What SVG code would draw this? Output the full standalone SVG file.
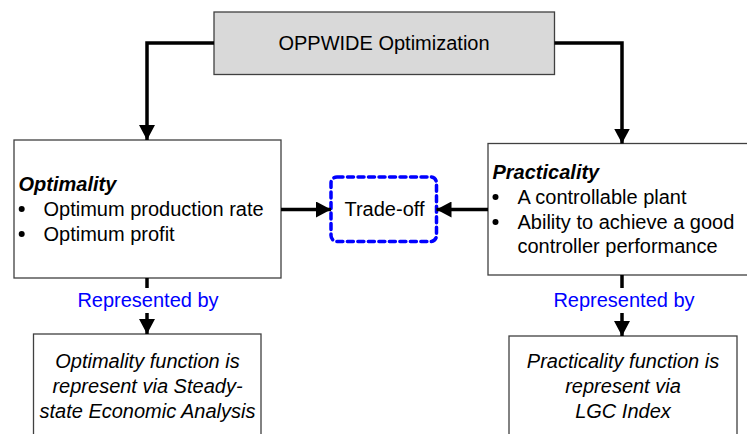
<svg xmlns="http://www.w3.org/2000/svg" width="747" height="434" viewBox="0 0 747 434">
  <style>
    .box { fill: #ffffff; stroke: #404040; stroke-width: 1.3; }
    .head { fill: #d9d9d9; stroke: #404040; stroke-width: 1.3; }
    .link { fill: none; stroke: #000000; stroke-width: 3.5; }
    .dots { fill: none; stroke: #0000ff; stroke-width: 3.5; stroke-dasharray: 6 4.5; stroke-linecap: round; }
    text { font-family: "Liberation Sans", Arial, sans-serif; font-size: 20px; fill: #000000; }
    .title { font-weight: bold; font-style: italic; }
    .note { font-style: italic; text-anchor: middle; }
    .via { fill: #0000ff; text-anchor: middle; }
  </style>
  <defs>
    <marker id="arrow" markerUnits="userSpaceOnUse" markerWidth="16" markerHeight="16" viewBox="0 0 16 16" refX="15" refY="8" orient="auto">
      <path d="M0,0 L15,8 L0,16 Z" fill="#000000"/>
    </marker>
  </defs>

  <g id="oppwide">
    <rect class="head" x="214" y="12" width="340.5" height="62.5"/>
    <text x="384" y="50" text-anchor="middle">OPPWIDE Optimization</text>
  </g>

  <g id="optimality">
    <rect class="box" x="14" y="140" width="267" height="138"/>
    <text class="title" x="18.5" y="191">Optimality</text>
    <circle cx="21.7" cy="209" r="3"/>
    <text x="43.5" y="216">Optimum production rate</text>
    <circle cx="21.7" cy="234" r="3"/>
    <text x="43.5" y="241">Optimum profit</text>
  </g>

  <g id="practicality">
    <rect class="box" x="488" y="143.5" width="265" height="131.5"/>
    <text class="title" x="492.5" y="179">Practicality</text>
    <circle cx="495.5" cy="197" r="3"/>
    <text x="517.5" y="204">A controllable plant</text>
    <circle cx="495.5" cy="222" r="3"/>
    <text x="517.5" y="229">Ability to achieve a good</text>
    <text x="517.5" y="253">controller performance</text>
  </g>

  <g id="tradeoff">
    <rect class="dots" x="331" y="177" width="105.5" height="64.5" rx="6"/>
    <text x="384.5" y="216" text-anchor="middle">Trade-off</text>
  </g>

  <g id="optimality-function">
    <rect class="box" x="33.5" y="334" width="227.5" height="115"/>
    <text class="note" x="147.5" y="368">Optimality function is</text>
    <text class="note" x="147.5" y="393">represent via Steady-</text>
    <text class="note" x="147.5" y="418">state Economic Analysis</text>
  </g>

  <g id="practicality-function">
    <rect class="box" x="509" y="336" width="228" height="115"/>
    <text class="note" x="623" y="368">Practicality function is</text>
    <text class="note" x="623" y="393">represent via</text>
    <text class="note" x="623" y="418">LGC Index</text>
  </g>

  <g id="connectors">
    <path class="link" d="M214,43 H147 V140" marker-end="url(#arrow)"/>
    <path class="link" d="M554.5,43 H622 V143.5" marker-end="url(#arrow)"/>
    <path class="link" d="M281,209.5 H331" marker-end="url(#arrow)"/>
    <path class="link" d="M488,209.5 H436.5" marker-end="url(#arrow)"/>
    <path class="link" d="M147,278 V288"/>
    <path class="link" d="M147,313 V334" marker-end="url(#arrow)"/>
    <path class="link" d="M622,275 V288"/>
    <path class="link" d="M622,313 V336" marker-end="url(#arrow)"/>
    <text class="via" x="148" y="307">Represented by</text>
    <text class="via" x="624" y="307">Represented by</text>
  </g>
</svg>
